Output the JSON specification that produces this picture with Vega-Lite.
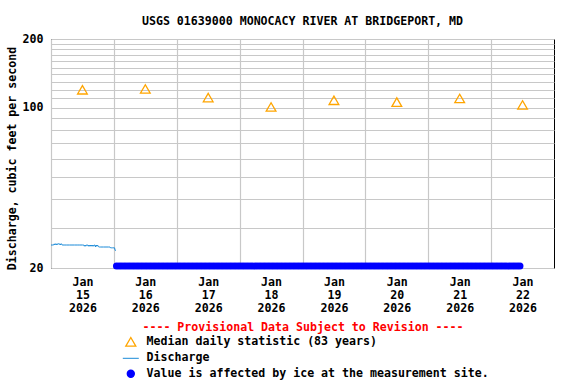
{
  "$schema": "https://vega.github.io/schema/vega-lite/v6.json",
  "width": 503,
  "height": 229,
  "autosize": "none",
  "padding": {"left": 51, "top": 39, "right": 22, "bottom": 116},
  "background": "white",
  "title": {
    "text": "USGS 01639000 MONOCACY RIVER AT BRIDGEPORT, MD",
    "font": "DejaVu Sans Mono", "fontSize": 11.6, "fontWeight": "bold", "color": "black",
    "anchor": "middle", "frame": "group", "baseline": "alphabetic", "offset": 14, "dy": 18
  },
  "config": {
    "view": {"stroke": "black", "strokeWidth": 1},
    "font": "DejaVu Sans Mono"
  },
  "datasets": {
    "median": [
      {"t": "2026-01-15T12:00", "v": 120},
      {"t": "2026-01-16T12:00", "v": 121},
      {"t": "2026-01-17T12:00", "v": 111},
      {"t": "2026-01-18T12:00", "v": 101},
      {"t": "2026-01-19T12:00", "v": 108},
      {"t": "2026-01-20T12:00", "v": 106},
      {"t": "2026-01-21T12:00", "v": 110},
      {"t": "2026-01-22T12:00", "v": 103}
    ],
    "discharge": [
      {"t": "2026-01-15T00:00", "v": 25.2}, {"t": "2026-01-15T00:30", "v": 25.2}, {"t": "2026-01-15T01:00", "v": 25.2},
      {"t": "2026-01-15T01:15", "v": 25.5}, {"t": "2026-01-15T01:30", "v": 25.2}, {"t": "2026-01-15T01:45", "v": 25.5},
      {"t": "2026-01-15T02:00", "v": 25.5}, {"t": "2026-01-15T02:15", "v": 25.2}, {"t": "2026-01-15T02:30", "v": 25.5},
      {"t": "2026-01-15T03:00", "v": 25.5}, {"t": "2026-01-15T03:15", "v": 25.5}, {"t": "2026-01-15T03:30", "v": 25.2},
      {"t": "2026-01-15T03:45", "v": 25.5}, {"t": "2026-01-15T04:00", "v": 25.5}, {"t": "2026-01-15T04:15", "v": 25.2},
      {"t": "2026-01-15T05:00", "v": 25.2}, {"t": "2026-01-15T06:00", "v": 25.2}, {"t": "2026-01-15T07:00", "v": 25.2},
      {"t": "2026-01-15T08:00", "v": 25.2}, {"t": "2026-01-15T09:00", "v": 25.2}, {"t": "2026-01-15T10:00", "v": 25.2},
      {"t": "2026-01-15T11:00", "v": 25.2}, {"t": "2026-01-15T12:00", "v": 25.2}, {"t": "2026-01-15T12:30", "v": 25.2},
      {"t": "2026-01-15T12:45", "v": 24.9}, {"t": "2026-01-15T13:00", "v": 25.2}, {"t": "2026-01-15T13:15", "v": 24.9},
      {"t": "2026-01-15T13:30", "v": 25.2}, {"t": "2026-01-15T14:00", "v": 25.2}, {"t": "2026-01-15T14:15", "v": 24.9},
      {"t": "2026-01-15T14:30", "v": 25.2}, {"t": "2026-01-15T14:45", "v": 24.9}, {"t": "2026-01-15T15:00", "v": 25.2},
      {"t": "2026-01-15T15:15", "v": 24.9}, {"t": "2026-01-15T15:30", "v": 25.2}, {"t": "2026-01-15T15:45", "v": 24.9},
      {"t": "2026-01-15T16:00", "v": 25.2}, {"t": "2026-01-15T16:15", "v": 24.9}, {"t": "2026-01-15T16:30", "v": 25.2},
      {"t": "2026-01-15T16:45", "v": 25.2}, {"t": "2026-01-15T17:00", "v": 24.7}, {"t": "2026-01-15T17:15", "v": 25.2},
      {"t": "2026-01-15T17:30", "v": 24.9}, {"t": "2026-01-15T17:45", "v": 25.2}, {"t": "2026-01-15T18:00", "v": 24.9},
      {"t": "2026-01-15T18:15", "v": 24.7}, {"t": "2026-01-15T18:30", "v": 24.7}, {"t": "2026-01-15T19:00", "v": 24.7},
      {"t": "2026-01-15T20:00", "v": 24.7}, {"t": "2026-01-15T21:00", "v": 24.7}, {"t": "2026-01-15T22:00", "v": 24.7},
      {"t": "2026-01-15T22:30", "v": 24.7}, {"t": "2026-01-15T22:45", "v": 24.5}, {"t": "2026-01-15T23:00", "v": 24.5},
      {"t": "2026-01-15T23:30", "v": 24.5}, {"t": "2026-01-16T00:00", "v": 24.5}, {"t": "2026-01-16T00:15", "v": 24.5},
      {"t": "2026-01-16T00:30", "v": 23.9}, {"t": "2026-01-16T00:45", "v": 23.8}
    ],
    "ice": [
      {"t": "2026-01-16T01:00", "v": 20.4}, {"t": "2026-01-16T02:00", "v": 20.4}, {"t": "2026-01-16T03:00", "v": 20.4}, {"t": "2026-01-16T04:00", "v": 20.4},
      {"t": "2026-01-16T05:00", "v": 20.4}, {"t": "2026-01-16T06:00", "v": 20.4}, {"t": "2026-01-16T07:00", "v": 20.4}, {"t": "2026-01-16T08:00", "v": 20.4},
      {"t": "2026-01-16T09:00", "v": 20.4}, {"t": "2026-01-16T10:00", "v": 20.4}, {"t": "2026-01-16T11:00", "v": 20.4}, {"t": "2026-01-16T12:00", "v": 20.4},
      {"t": "2026-01-16T13:00", "v": 20.4}, {"t": "2026-01-16T14:00", "v": 20.4}, {"t": "2026-01-16T15:00", "v": 20.4}, {"t": "2026-01-16T16:00", "v": 20.4},
      {"t": "2026-01-16T17:00", "v": 20.4}, {"t": "2026-01-16T18:00", "v": 20.4}, {"t": "2026-01-16T19:00", "v": 20.4}, {"t": "2026-01-16T20:00", "v": 20.4},
      {"t": "2026-01-16T21:00", "v": 20.4}, {"t": "2026-01-16T22:00", "v": 20.4}, {"t": "2026-01-16T23:00", "v": 20.4},
      {"t": "2026-01-17T00:00", "v": 20.4}, {"t": "2026-01-17T01:00", "v": 20.4}, {"t": "2026-01-17T02:00", "v": 20.4}, {"t": "2026-01-17T03:00", "v": 20.4},
      {"t": "2026-01-17T04:00", "v": 20.4}, {"t": "2026-01-17T05:00", "v": 20.4}, {"t": "2026-01-17T06:00", "v": 20.4}, {"t": "2026-01-17T07:00", "v": 20.4},
      {"t": "2026-01-17T08:00", "v": 20.4}, {"t": "2026-01-17T09:00", "v": 20.4}, {"t": "2026-01-17T10:00", "v": 20.4}, {"t": "2026-01-17T11:00", "v": 20.4},
      {"t": "2026-01-17T12:00", "v": 20.4}, {"t": "2026-01-17T13:00", "v": 20.4}, {"t": "2026-01-17T14:00", "v": 20.4}, {"t": "2026-01-17T15:00", "v": 20.4},
      {"t": "2026-01-17T16:00", "v": 20.4}, {"t": "2026-01-17T17:00", "v": 20.4}, {"t": "2026-01-17T18:00", "v": 20.4}, {"t": "2026-01-17T19:00", "v": 20.4},
      {"t": "2026-01-17T20:00", "v": 20.4}, {"t": "2026-01-17T21:00", "v": 20.4}, {"t": "2026-01-17T22:00", "v": 20.4}, {"t": "2026-01-17T23:00", "v": 20.4},
      {"t": "2026-01-18T00:00", "v": 20.4}, {"t": "2026-01-18T01:00", "v": 20.4}, {"t": "2026-01-18T02:00", "v": 20.4}, {"t": "2026-01-18T03:00", "v": 20.4},
      {"t": "2026-01-18T04:00", "v": 20.4}, {"t": "2026-01-18T05:00", "v": 20.4}, {"t": "2026-01-18T06:00", "v": 20.4}, {"t": "2026-01-18T07:00", "v": 20.4},
      {"t": "2026-01-18T08:00", "v": 20.4}, {"t": "2026-01-18T09:00", "v": 20.4}, {"t": "2026-01-18T10:00", "v": 20.4}, {"t": "2026-01-18T11:00", "v": 20.4},
      {"t": "2026-01-18T12:00", "v": 20.4}, {"t": "2026-01-18T13:00", "v": 20.4}, {"t": "2026-01-18T14:00", "v": 20.4}, {"t": "2026-01-18T15:00", "v": 20.4},
      {"t": "2026-01-18T16:00", "v": 20.4}, {"t": "2026-01-18T17:00", "v": 20.4}, {"t": "2026-01-18T18:00", "v": 20.4}, {"t": "2026-01-18T19:00", "v": 20.4},
      {"t": "2026-01-18T20:00", "v": 20.4}, {"t": "2026-01-18T21:00", "v": 20.4}, {"t": "2026-01-18T22:00", "v": 20.4}, {"t": "2026-01-18T23:00", "v": 20.4},
      {"t": "2026-01-19T00:00", "v": 20.4}, {"t": "2026-01-19T01:00", "v": 20.4}, {"t": "2026-01-19T02:00", "v": 20.4}, {"t": "2026-01-19T03:00", "v": 20.4},
      {"t": "2026-01-19T04:00", "v": 20.4}, {"t": "2026-01-19T05:00", "v": 20.4}, {"t": "2026-01-19T06:00", "v": 20.4}, {"t": "2026-01-19T07:00", "v": 20.4},
      {"t": "2026-01-19T08:00", "v": 20.4}, {"t": "2026-01-19T09:00", "v": 20.4}, {"t": "2026-01-19T10:00", "v": 20.4}, {"t": "2026-01-19T11:00", "v": 20.4},
      {"t": "2026-01-19T12:00", "v": 20.4}, {"t": "2026-01-19T13:00", "v": 20.4}, {"t": "2026-01-19T14:00", "v": 20.4}, {"t": "2026-01-19T15:00", "v": 20.4},
      {"t": "2026-01-19T16:00", "v": 20.4}, {"t": "2026-01-19T17:00", "v": 20.4}, {"t": "2026-01-19T18:00", "v": 20.4}, {"t": "2026-01-19T19:00", "v": 20.4},
      {"t": "2026-01-19T20:00", "v": 20.4}, {"t": "2026-01-19T21:00", "v": 20.4}, {"t": "2026-01-19T22:00", "v": 20.4}, {"t": "2026-01-19T23:00", "v": 20.4},
      {"t": "2026-01-20T00:00", "v": 20.4}, {"t": "2026-01-20T01:00", "v": 20.4}, {"t": "2026-01-20T02:00", "v": 20.4}, {"t": "2026-01-20T03:00", "v": 20.4},
      {"t": "2026-01-20T04:00", "v": 20.4}, {"t": "2026-01-20T05:00", "v": 20.4}, {"t": "2026-01-20T06:00", "v": 20.4}, {"t": "2026-01-20T07:00", "v": 20.4},
      {"t": "2026-01-20T08:00", "v": 20.4}, {"t": "2026-01-20T09:00", "v": 20.4}, {"t": "2026-01-20T10:00", "v": 20.4}, {"t": "2026-01-20T11:00", "v": 20.4},
      {"t": "2026-01-20T12:00", "v": 20.4}, {"t": "2026-01-20T13:00", "v": 20.4}, {"t": "2026-01-20T14:00", "v": 20.4}, {"t": "2026-01-20T15:00", "v": 20.4},
      {"t": "2026-01-20T16:00", "v": 20.4}, {"t": "2026-01-20T17:00", "v": 20.4}, {"t": "2026-01-20T18:00", "v": 20.4}, {"t": "2026-01-20T19:00", "v": 20.4},
      {"t": "2026-01-20T20:00", "v": 20.4}, {"t": "2026-01-20T21:00", "v": 20.4}, {"t": "2026-01-20T22:00", "v": 20.4}, {"t": "2026-01-20T23:00", "v": 20.4},
      {"t": "2026-01-21T00:00", "v": 20.4}, {"t": "2026-01-21T01:00", "v": 20.4}, {"t": "2026-01-21T02:00", "v": 20.4}, {"t": "2026-01-21T03:00", "v": 20.4},
      {"t": "2026-01-21T04:00", "v": 20.4}, {"t": "2026-01-21T05:00", "v": 20.4}, {"t": "2026-01-21T06:00", "v": 20.4}, {"t": "2026-01-21T07:00", "v": 20.4},
      {"t": "2026-01-21T08:00", "v": 20.4}, {"t": "2026-01-21T09:00", "v": 20.4}, {"t": "2026-01-21T10:00", "v": 20.4}, {"t": "2026-01-21T11:00", "v": 20.4},
      {"t": "2026-01-21T12:00", "v": 20.4}, {"t": "2026-01-21T13:00", "v": 20.4}, {"t": "2026-01-21T14:00", "v": 20.4}, {"t": "2026-01-21T15:00", "v": 20.4},
      {"t": "2026-01-21T16:00", "v": 20.4}, {"t": "2026-01-21T17:00", "v": 20.4}, {"t": "2026-01-21T18:00", "v": 20.4}, {"t": "2026-01-21T19:00", "v": 20.4},
      {"t": "2026-01-21T20:00", "v": 20.4}, {"t": "2026-01-21T21:00", "v": 20.4}, {"t": "2026-01-21T22:00", "v": 20.4}, {"t": "2026-01-21T23:00", "v": 20.4},
      {"t": "2026-01-22T00:00", "v": 20.4}, {"t": "2026-01-22T01:00", "v": 20.4}, {"t": "2026-01-22T02:00", "v": 20.4}, {"t": "2026-01-22T03:00", "v": 20.4},
      {"t": "2026-01-22T04:00", "v": 20.4}, {"t": "2026-01-22T05:00", "v": 20.4}, {"t": "2026-01-22T06:00", "v": 20.4}, {"t": "2026-01-22T07:00", "v": 20.4},
      {"t": "2026-01-22T08:00", "v": 20.4}, {"t": "2026-01-22T09:00", "v": 20.4}, {"t": "2026-01-22T10:00", "v": 20.4}, {"t": "2026-01-22T11:00", "v": 20.4}
    ]
  },
  "layer": [
    {
      "data": {"name": "discharge"},
      "mark": {"type": "line", "strokeWidth": 1, "interpolate": "linear"},
      "encoding": {
        "x": {
          "field": "t", "type": "temporal",
          "scale": {"domain": [{"year": 2026, "month": 1, "date": 15}, {"year": 2026, "month": 1, "date": 23}]},
          "axis": {
            "values": [
              {"year": 2026, "month": 1, "date": 15}, {"year": 2026, "month": 1, "date": 16},
              {"year": 2026, "month": 1, "date": 17}, {"year": 2026, "month": 1, "date": 18},
              {"year": 2026, "month": 1, "date": 19}, {"year": 2026, "month": 1, "date": 20},
              {"year": 2026, "month": 1, "date": 21}, {"year": 2026, "month": 1, "date": 22}
            ],
            "labelExpr": "[timeFormat(datum.value, '%b'), timeFormat(datum.value, '%d'), timeFormat(datum.value, '%Y')]",
            "labelOffset": 31.4, "labelAlign": "center", "labelBaseline": "top", "labelPadding": 8,
            "labelLineHeight": 13, "labelFlush": false, "labelOverlap": false, "labelBound": false,
            "labelFont": "DejaVu Sans Mono", "labelFontSize": 11.6, "labelFontWeight": "bold", "labelColor": "black",
            "ticks": false, "domain": false,
            "grid": true, "gridColor": "#c8c8c8", "gridWidth": 1.2, "gridOpacity": 1,
            "title": "---- Provisional Data Subject to Revision ----",
            "titleColor": "#ff0000", "titleFont": "DejaVu Sans Mono", "titleFontSize": 11.6, "titleFontWeight": "bold",
            "titleBaseline": "middle", "titleY": 59.5
          }
        },
        "y": {
          "field": "v", "type": "quantitative",
          "scale": {"type": "log", "domain": [20, 200], "nice": false},
          "axis": {
            "values": [20, 30, 40, 50, 60, 70, 80, 90, 100, 110, 120, 130, 140, 150, 160, 170, 180, 190, 200],
            "labelExpr": "datum.value == 20 || datum.value == 100 || datum.value == 200 ? datum.label : ''",
            "format": "d",
            "labelFont": "DejaVu Sans Mono", "labelFontSize": 11.6, "labelFontWeight": "bold", "labelColor": "black",
            "labelPadding": 8, "ticks": false, "domain": false, "labelOverlap": false, "labelBound": false, "labelFlush": false,
            "grid": true, "gridColor": "#c8c8c8", "gridWidth": 1.2, "gridOpacity": 1,
            "title": "Discharge, cubic feet per second",
            "titleFont": "DejaVu Sans Mono", "titleFontSize": 11.6, "titleFontWeight": "bold", "titleColor": "black",
            "titleAngle": -90, "titleBaseline": "middle", "titleAlign": "center", "titleX": -39, "titleY": 119
          }
        },
        "color": {
          "datum": "Discharge",
          "scale": {
            "domain": ["Median daily statistic (83 years)", "Discharge", "Value is affected by ice at the measurement site."],
            "range": ["#ffa500", "#1a8ad8", "#0000ff"]
          },
          "legend": {
            "orient": "none", "legendX": 74, "legendY": 297, "direction": "vertical", "title": null,
            "padding": 0, "symbolSize": 100, "labelOffset": 10, "rowPadding": 2.5,
            "labelFont": "DejaVu Sans Mono", "labelFontSize": 11.6, "labelFontWeight": "bold", "labelColor": "black", "labelLimit": 500,
            "encode": {
              "symbols": {
                "update": {
                  "shape": {"signal": "datum.value === 'Discharge' ? 'stroke' : datum.value === 'Median daily statistic (83 years)' ? 'triangle-up' : 'circle'"},
                  "size": {"signal": "datum.value === 'Discharge' ? 256 : datum.value === 'Median daily statistic (83 years)' ? 100 : 50"},
                  "fill": {"signal": "datum.value === 'Value is affected by ice at the measurement site.' ? '#0000ff' : 'transparent'"},
                  "fillOpacity": {"signal": "datum.value === 'Value is affected by ice at the measurement site.' ? 1 : 0"},
                  "stroke": {"signal": "datum.value === 'Median daily statistic (83 years)' ? '#ffa500' : datum.value === 'Discharge' ? '#1a8ad8' : 'transparent'"},
                  "strokeWidth": {"signal": "datum.value === 'Discharge' ? 1 : 1.3"},
                  "opacity": {"value": 1}
                }
              }
            }
          }
        }
      }
    },
    {
      "data": {"name": "median"},
      "mark": {"type": "point", "shape": "triangle-up", "filled": false, "size": 95, "strokeWidth": 1.3, "opacity": 1},
      "encoding": {
        "x": {"field": "t", "type": "temporal"},
        "y": {"field": "v", "type": "quantitative"},
        "color": {"datum": "Median daily statistic (83 years)"}
      }
    },
    {
      "data": {"name": "ice"},
      "mark": {"type": "point", "shape": "circle", "filled": true, "size": 50, "opacity": 1, "strokeWidth": 0},
      "encoding": {
        "x": {"field": "t", "type": "temporal"},
        "y": {"field": "v", "type": "quantitative"},
        "color": {"datum": "Value is affected by ice at the measurement site."}
      }
    },
    {
      "mark": {"type": "rule", "color": "black", "strokeWidth": 1},
      "encoding": {"y": {"datum": 20}}
    }
  ]
}
